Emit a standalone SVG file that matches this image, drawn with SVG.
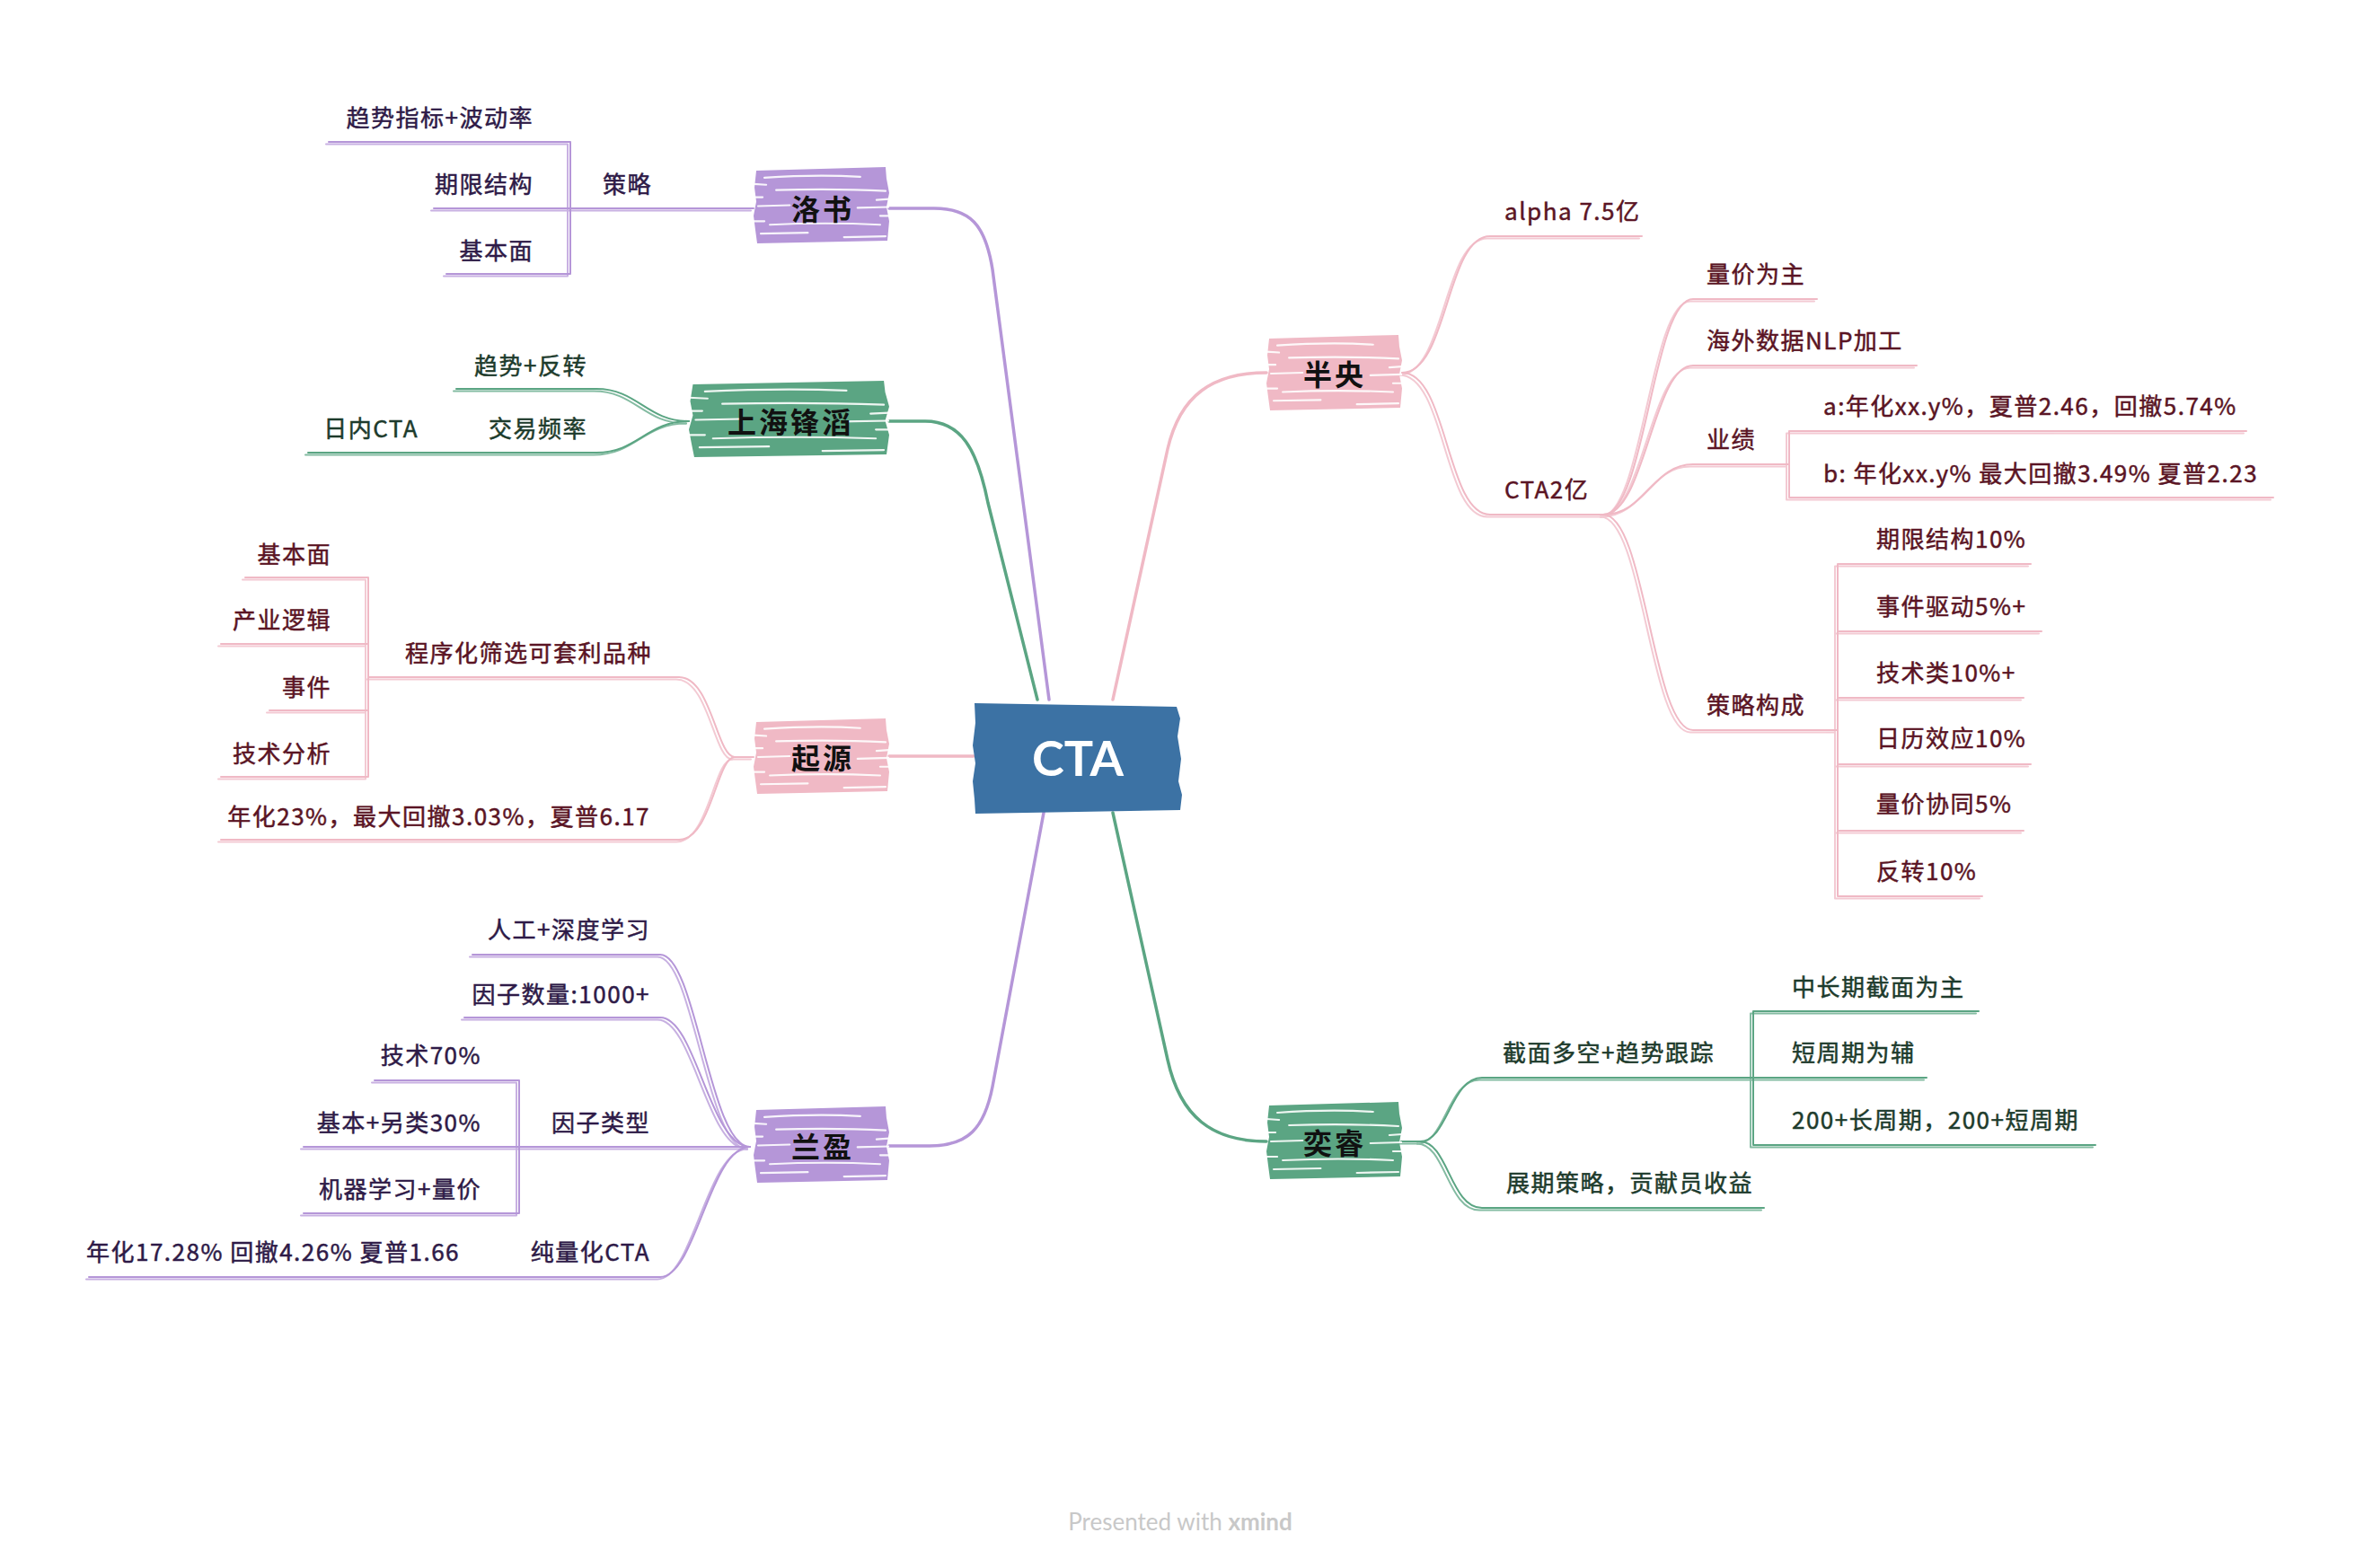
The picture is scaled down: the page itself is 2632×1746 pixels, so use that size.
<svg xmlns="http://www.w3.org/2000/svg" xmlns:xlink="http://www.w3.org/1999/xlink" width="2632" height="1746" viewBox="0 0 2632 1746">
<style>
.t{font-family:"Noto Sans CJK SC","Noto Sans",sans-serif;font-size:26px;letter-spacing:1.5px;dominant-baseline:central;stroke-width:0.5px}
.e{text-anchor:end}
.tp{fill:#2E1A47;stroke:#2E1A47}.tg{fill:#1D3B2C;stroke:#1D3B2C}.tr{fill:#5A1424;stroke:#5A1424}
.main{font-family:"Noto Sans CJK SC","Noto Sans",sans-serif;font-size:32px;font-weight:bold;letter-spacing:3px;fill:#111;text-anchor:middle;dominant-baseline:central}
.sub{fill:none;stroke-width:2;stroke-linecap:round;stroke-linejoin:round}
.trunk{fill:none;stroke-width:3.5;stroke-linecap:round;stroke-linejoin:round}
.lp{stroke:#B596D8}.lg{stroke:#5BA583}.lr{stroke:#F0B9C5}
.streak{fill:none;stroke:#fff;stroke-width:2.2;stroke-linecap:round;vector-effect:non-scaling-stroke;opacity:.9}
</style>
<defs>
<symbol id="scrib" viewBox="0 0 150 88" preserveAspectRatio="none">
<path d="M3,5 L146,1 L147,14 L150,30 L147,46 L150,62 L148,84 L4,87 L2,72 L0,56 L3,40 L1,24 Z" fill="currentColor"/>
<path class="streak" d="M12,13 Q70,9 118,12 M25,27 Q90,25 146,28 M0,20 L14,21 M5,45 L40,44 M115,47 L150,46 M136,38 L150,37 M18,66 Q80,63 140,66 M8,76 L60,75 M0,35 L10,35 M140,56 L150,56 M0,62 L12,62 M100,80 L146,79"/>
</symbol>
</defs>
<rect width="2632" height="1746" fill="#fff"/>

<g id="connectors">
  <g id="trunks">
    <path class="trunk lp" d="M1168,779 L1105,300 C1097,250 1080,232 1040,232 L990,232"/>
    <path class="trunk lp" d="M1162,905 L1105,1210 C1096,1256 1078,1276 1035,1276 L990,1276"/>
    <path class="trunk lg" d="M1155,779 L1100,560 C1088,500 1070,469 1030,469 L990,469"/>
    <path class="trunk lg" d="M1239,905 L1300,1180 C1314,1244 1350,1271 1410,1271"/>
    <path class="trunk lr" d="M1084,842 L990,842"/>
    <path class="trunk lr" d="M1239,779 L1300,500 C1314,440 1350,415 1410,415"/>
  </g>
  <g id="subP" class="sub lp">
    <path d="M839,232 L635,232 M635,158 L635,305 M635,158 L366,158 M635,232 L483,232 M635,305 L497,305"/>
    <path d="M835,1277 C790,1277 775,1063 735,1063 L526,1063"/>
    <path d="M835,1277 C790,1277 775,1133 735,1133 L517,1133"/>
    <path d="M835,1277 L578,1277"/>
    <path d="M835,1277 C790,1277 775,1422 735,1422 L99,1422"/>
    <path d="M578,1203 L578,1351 M578,1203 L417,1203 M578,1277 L338,1277 M578,1351 L338,1351"/>
  </g>
  <g id="subG" class="sub lg">
    <path d="M767,469 C720,469 710,433 664,433 L508,433"/>
    <path d="M767,469 C720,469 710,504 664,504 L343,504"/>
    <path d="M1560,1271 L1581,1271"/>
    <path d="M1581,1271 C1612,1271 1615,1200 1650,1200 L1952,1200"/>
    <path d="M1581,1271 C1612,1271 1615,1345 1650,1345 L1964,1345"/>
    <path d="M1952,1126 L1952,1275 M1952,1126 L2203,1126 M1952,1200 L2145,1200 M1952,1275 L2333,1275"/>
  </g>
  <g id="subR" class="sub lr">
    <path d="M839,843 L818,843"/>
    <path d="M818,843 C798,843 792,754 756,754 L410,754"/>
    <path d="M818,843 C798,843 792,935 756,935 L246,935"/>
    <path d="M410,643 L410,865 M410,643 L273,643 M410,717 L246,717 M410,791 L300,791 M410,865 L246,865"/>
    <path d="M1561,415 C1612,415 1610,263 1659,263 L1828,263"/>
    <path d="M1561,415 C1612,415 1610,573 1659,573 L1785,573"/>
    <path d="M1785,573 C1832,573 1840,333 1885,333 L2023,333"/>
    <path d="M1785,573 C1832,573 1840,407 1885,407 L2134,407"/>
    <path d="M1785,573 C1832,573 1840,517 1885,517 L1992,517"/>
    <path d="M1785,573 C1832,573 1840,813 1885,813 L2046,813"/>
    <path d="M1992,480 L1992,554 M1992,480 L2501,480 M1992,554 L2531,554"/>
    <path d="M2046,628 L2046,998 M2046,628 L2261,628 M2046,703 L2273,703 M2046,777 L2253,777 M2046,851 L2261,851 M2046,925 L2253,925 M2046,998 L2207,998"/>
  </g>
  <use href="#subP" transform="translate(-3,2.5)" opacity="0.75"/>
  <use href="#subG" transform="translate(-3,2.5)" opacity="0.75"/>
  <use href="#subR" transform="translate(-3,2.5)" opacity="0.75"/>
</g>

<g id="center">
  <path d="M1085,783 L1310,787 L1314,800 L1311,820 L1315,845 L1312,870 L1316,885 L1314,902 L1086,906 L1085,890 L1083,870 L1086,850 L1083,830 L1086,805 Z" fill="#3C72A4"/>
  <text x="1200" y="843" font-family="Lato,'Liberation Sans',sans-serif" font-size="54" font-weight="bold" fill="#fff" text-anchor="middle" dominant-baseline="central">CTA</text>
</g>

<g id="node-luoshu">
  <use href="#scrib" x="839" y="185" width="151" height="87" color="#B596D8"/>
  <text class="main" x="916" y="231">洛书</text>
</g>
<g id="node-shfengtao">
  <use href="#scrib" x="767" y="423" width="223" height="87" color="#5BA583"/>
  <text class="main" x="880" y="468">上海锋滔</text>
</g>
<g id="node-qiyuan">
  <use href="#scrib" x="839" y="799" width="151" height="86" color="#F0B9C5"/>
  <text class="main" x="916" y="842">起源</text>
</g>
<g id="node-lanying">
  <use href="#scrib" x="839" y="1231" width="151" height="87" color="#B596D8"/>
  <text class="main" x="916" y="1275">兰盈</text>
</g>
<g id="node-banyang">
  <use href="#scrib" x="1410" y="372" width="151" height="86" color="#F0B9C5"/>
  <text class="main" x="1486" y="415">半央</text>
</g>
<g id="node-yirui">
  <use href="#scrib" x="1410" y="1226" width="151" height="88" color="#5BA583"/>
  <text class="main" x="1486" y="1271">奕睿</text>
</g>

<g id="luoshu-topics">
  <g id="t-celue"><text class="t tp" x="671" y="203">策略</text></g>
  <g id="t-qushi-bodong"><text class="t tp e" x="594" y="129">趋势指标+波动率</text></g>
  <g id="t-qixian"><text class="t tp e" x="594" y="203">期限结构</text></g>
  <g id="t-jibenmian1"><text class="t tp e" x="594" y="277">基本面</text></g>
</g>

<g id="shft-topics">
  <g id="t-qushi-fanzhuan"><text class="t tg e" x="654" y="405">趋势+反转</text></g>
  <g id="t-jiaoyi"><text class="t tg e" x="654" y="475">交易频率</text></g>
  <g id="t-rinei"><text class="t tg e" x="466" y="475">日内CTA</text></g>
</g>

<g id="qiyuan-topics">
  <g id="t-chengxu"><text class="t tr e" x="726" y="725">程序化筛选可套利品种</text></g>
  <g id="t-qy-perf"><text class="t tr e" x="724" y="907" letter-spacing="1">年化23%，最大回撤3.03%，夏普6.17</text></g>
  <g id="t-jibenmian2"><text class="t tr e" x="369" y="615">基本面</text></g>
  <g id="t-chanye"><text class="t tr e" x="369" y="688">产业逻辑</text></g>
  <g id="t-shijian"><text class="t tr e" x="369" y="763">事件</text></g>
  <g id="t-jishu"><text class="t tr e" x="369" y="837">技术分析</text></g>
</g>

<g id="lanying-topics">
  <g id="t-rengong"><text class="t tp e" x="724" y="1033">人工+深度学习</text></g>
  <g id="t-yinzishu"><text class="t tp e" x="724" y="1105">因子数量:1000+</text></g>
  <g id="t-yinzilei"><text class="t tp e" x="724" y="1248">因子类型</text></g>
  <g id="t-chunlh"><text class="t tp e" x="724" y="1392">纯量化CTA</text></g>
  <g id="t-js70"><text class="t tp e" x="536" y="1173">技术70%</text></g>
  <g id="t-jb30"><text class="t tp e" x="536" y="1248">基本+另类30%</text></g>
  <g id="t-jqxx"><text class="t tp e" x="536" y="1322">机器学习+量价</text></g>
  <g id="t-ly-perf"><text class="t tp e" x="512" y="1392" letter-spacing="0.5">年化17.28% 回撤4.26% 夏普1.66</text></g>
</g>

<g id="banyang-topics">
  <g id="t-alpha"><text class="t tr" x="1675" y="233" letter-spacing="0.5">alpha 7.5亿</text></g>
  <g id="t-cta2"><text class="t tr" x="1675" y="543">CTA2亿</text></g>
  <g id="t-liangjia"><text class="t tr" x="1900" y="303">量价为主</text></g>
  <g id="t-haiwai"><text class="t tr" x="1900" y="377">海外数据NLP加工</text></g>
  <g id="t-yeji"><text class="t tr" x="1900" y="487">业绩</text></g>
  <g id="t-celuegoucheng"><text class="t tr" x="1900" y="783">策略构成</text></g>
  <g id="t-perf-a"><text class="t tr" x="2030" y="450">a:年化xx.y%，夏普2.46，回撤5.74%</text></g>
  <g id="t-perf-b"><text class="t tr" x="2030" y="525">b: 年化xx.y% 最大回撤3.49% 夏普2.23</text></g>
  <g id="t-qx10"><text class="t tr" x="2089" y="598">期限结构10%</text></g>
  <g id="t-sj5"><text class="t tr" x="2089" y="673">事件驱动5%+</text></g>
  <g id="t-js10"><text class="t tr" x="2089" y="747">技术类10%+</text></g>
  <g id="t-rl10"><text class="t tr" x="2089" y="820">日历效应10%</text></g>
  <g id="t-lj5"><text class="t tr" x="2089" y="893">量价协同5%</text></g>
  <g id="t-fz10"><text class="t tr" x="2089" y="968">反转10%</text></g>
</g>

<g id="yirui-topics">
  <g id="t-jiemian"><text class="t tg" x="1673" y="1170">截面多空+趋势跟踪</text></g>
  <g id="t-zhanqi"><text class="t tg" x="1677" y="1315">展期策略，贡献员收益</text></g>
  <g id="t-zhongchang"><text class="t tg" x="1995" y="1097">中长期截面为主</text></g>
  <g id="t-duanzhou"><text class="t tg" x="1995" y="1170">短周期为辅</text></g>
  <g id="t-200"><text class="t tg" x="1995" y="1245">200+长周期，200+短周期</text></g>
</g>

<text x="1314" y="1694" font-family="Lato,'Liberation Sans',sans-serif" font-size="26" fill="#c8c8c8" text-anchor="middle" dominant-baseline="central">Presented with <tspan font-weight="bold">xmind</tspan></text>
</svg>
